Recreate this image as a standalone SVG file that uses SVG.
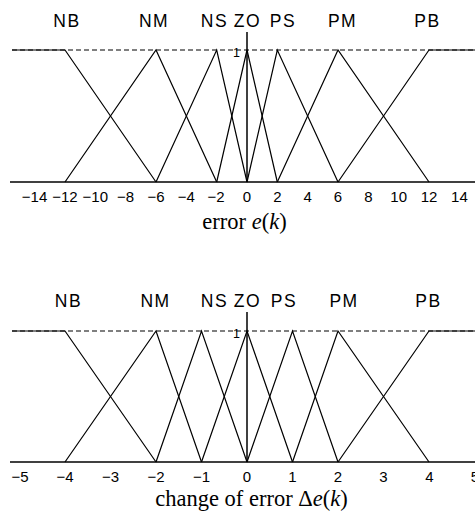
<svg xmlns="http://www.w3.org/2000/svg" width="475" height="513" viewBox="0 0 475 513">
<defs>
<style>
.bg{fill:#ffffff}
.mf{fill:none;stroke:#000;stroke-width:1.2;stroke-linejoin:miter}
.ax{fill:none;stroke:#000;stroke-width:1.5}
.dash{fill:none;stroke:#000;stroke-width:1.2;stroke-dasharray:5 3}
.set{font-family:"Liberation Sans",Arial,sans-serif;font-size:17.5px;letter-spacing:1.5px;text-anchor:middle;fill:#000}
.tick{font-family:"Liberation Sans",Arial,sans-serif;font-size:15px;text-anchor:middle;fill:#000}
.one{font-family:"Liberation Sans",Arial,sans-serif;font-size:12.5px;text-anchor:end;fill:#000}
.cap{font-family:"Liberation Serif","Times New Roman",serif;font-size:22.5px;text-anchor:middle;fill:#000}
.it{font-style:italic}
</style>
</defs>
<rect class="bg" x="0" y="0" width="475" height="513"/>

<!-- Top chart: error e(k) -->
<g id="chart-error">
  <g id="error-axes">
    <line class="dash" x1="12" y1="50" x2="475" y2="50"/>
    <line class="ax" x1="10" y1="182" x2="475" y2="182"/>
    <line class="ax" x1="247" y1="32" x2="247" y2="182"/>
  </g>
  <g id="error-mf">
    <polyline id="e-NB" class="mf" points="12,50 65,50 156,182"/>
    <polyline id="e-NM" class="mf" points="65,182 156,50 216.7,182"/>
    <polyline id="e-NS" class="mf" points="156,182 216.7,50 247,182"/>
    <polyline id="e-ZO" class="mf" points="216.7,182 247,50 277.3,182"/>
    <polyline id="e-PS" class="mf" points="247,182 277.3,50 338,182"/>
    <polyline id="e-PM" class="mf" points="277.3,182 338,50 429,182"/>
    <polyline id="e-PB" class="mf" points="338,182 429,50 475,50"/>
  </g>
  <g id="error-set-labels">
    <text class="set" x="67" y="27">NB</text>
    <text class="set" x="154" y="27">NM</text>
    <text class="set" x="214.5" y="27">NS</text>
    <text class="set" x="247.5" y="27">ZO</text>
    <text class="set" x="283" y="27">PS</text>
    <text class="set" x="342.5" y="27">PM</text>
    <text class="set" x="427.5" y="27">PB</text>
    <text class="one" x="240" y="57">1</text>
  </g>
  <g id="error-ticks">
    <text class="tick" x="34.6" y="202">−14</text>
    <text class="tick" x="65" y="202">−12</text>
    <text class="tick" x="95.3" y="202">−10</text>
    <text class="tick" x="125.6" y="202">−8</text>
    <text class="tick" x="156" y="202">−6</text>
    <text class="tick" x="186.3" y="202">−4</text>
    <text class="tick" x="216" y="202">−2</text>
    <text class="tick" x="247" y="202">0</text>
    <text class="tick" x="277.3" y="202">2</text>
    <text class="tick" x="307.7" y="202">4</text>
    <text class="tick" x="338" y="202">6</text>
    <text class="tick" x="368.4" y="202">8</text>
    <text class="tick" x="398.7" y="202">10</text>
    <text class="tick" x="429" y="202">12</text>
    <text class="tick" x="459.4" y="202">14</text>
  </g>
  <text class="cap" x="244.5" y="229">error <tspan class="it">e</tspan>(<tspan class="it">k</tspan>)</text>
</g>

<!-- Bottom chart: change of error -->
<g id="chart-change">
  <g id="change-axes">
    <line class="dash" x1="12" y1="331" x2="475" y2="331"/>
    <line class="ax" x1="10" y1="462" x2="475" y2="462"/>
    <line class="ax" x1="247" y1="312" x2="247" y2="462"/>
  </g>
  <g id="change-mf">
    <polyline id="d-NB" class="mf" points="12,331 65,331 156,462"/>
    <polyline id="d-NM" class="mf" points="65,462 156,331 201.5,462"/>
    <polyline id="d-NS" class="mf" points="156,462 201.5,331 247,462"/>
    <polyline id="d-ZO" class="mf" points="201.5,462 247,331 292.5,462"/>
    <polyline id="d-PS" class="mf" points="247,462 292.5,331 338,462"/>
    <polyline id="d-PM" class="mf" points="292.5,462 338,331 429,462"/>
    <polyline id="d-PB" class="mf" points="338,462 429,331 475,331"/>
  </g>
  <g id="change-set-labels">
    <text class="set" x="68.5" y="307">NB</text>
    <text class="set" x="155.5" y="307">NM</text>
    <text class="set" x="214.5" y="307">NS</text>
    <text class="set" x="247.5" y="307">ZO</text>
    <text class="set" x="284" y="307">PS</text>
    <text class="set" x="344" y="307">PM</text>
    <text class="set" x="428.5" y="307">PB</text>
    <text class="one" x="240" y="338">1</text>
  </g>
  <g id="change-ticks">
    <text class="tick" x="20" y="482">−5</text>
    <text class="tick" x="65" y="482">−4</text>
    <text class="tick" x="110.5" y="482">−3</text>
    <text class="tick" x="156" y="482">−2</text>
    <text class="tick" x="201.5" y="482">−1</text>
    <text class="tick" x="247" y="482">0</text>
    <text class="tick" x="292.5" y="482">1</text>
    <text class="tick" x="338" y="482">2</text>
    <text class="tick" x="383.5" y="482">3</text>
    <text class="tick" x="429.5" y="482">4</text>
    <text class="tick" x="475" y="482">5</text>
  </g>
  <text class="cap" x="251.5" y="506">change of error Δ<tspan class="it">e</tspan>(<tspan class="it">k</tspan>)</text>
</g>
</svg>
